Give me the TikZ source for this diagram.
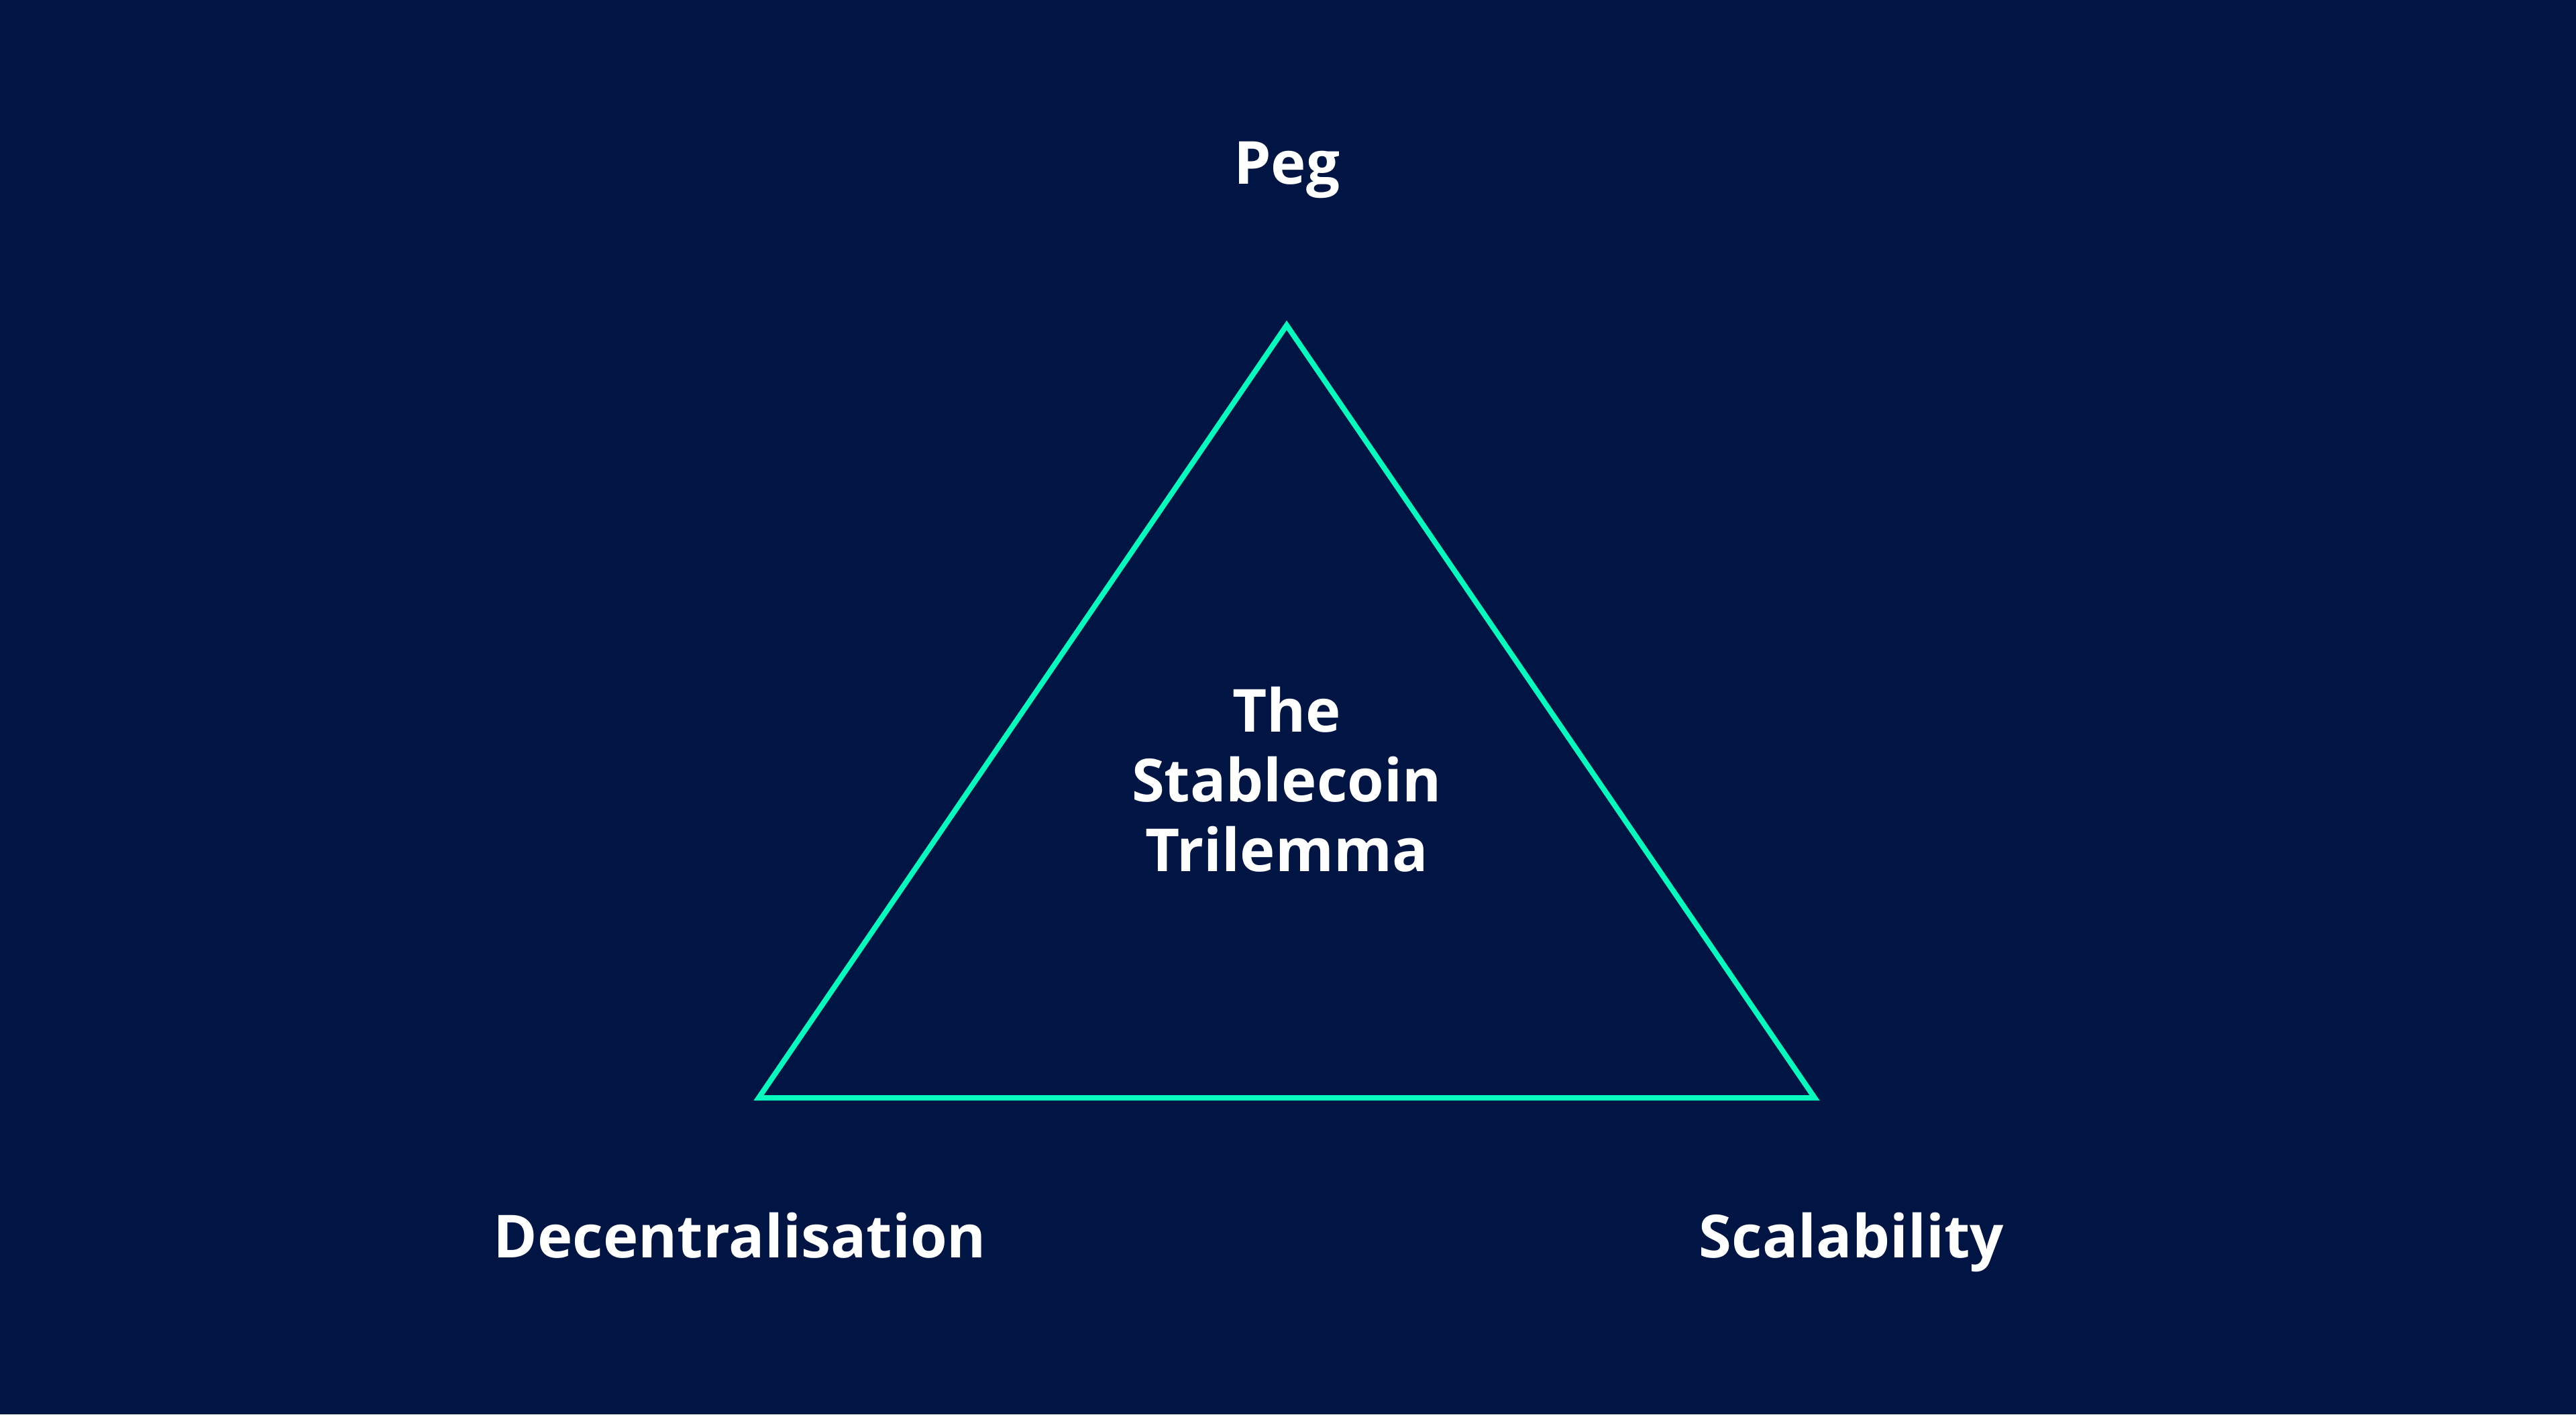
\documentclass[tikz,border=0pt]{standalone}
\usepackage{fontspec}
\setmainfont{Open Sans}
\definecolor{navy}{RGB}{0,21,67}
\definecolor{mint}{RGB}{5,250,190}
\begin{document}
\begin{tikzpicture}[x=1cm,y=1cm,
  label/.style={text=white,font=\fontsize{25.2}{29.5}\selectfont\bfseries,inner sep=0pt,anchor=base},
  edge/.style={draw=mint,line width=0.08cm,line join=miter}]

\fill[navy] (0,0) rectangle (38.4,21.09);
\useasboundingbox (0,0) rectangle (38.4,21.09);

% corners
\coordinate (top) at (19.18,16.24);
\coordinate (left) at (11.31,4.72);
\coordinate (right) at (27.05,4.72);

% nodes
\node (peg) [label] at (19.18,18.34) {Peg};
\node (dec) [label] at (11.03,2.34) {Decentralisation};
\node (sca) [label] at (27.60,2.34) {Scalability};
\node (title) [label,align=center] at (19.18,8.10) {The\\Stablecoin\\Trilemma};

% triangle
\draw[edge] (top) -- (left) -- (right) -- cycle;
\end{tikzpicture}
\end{document}
